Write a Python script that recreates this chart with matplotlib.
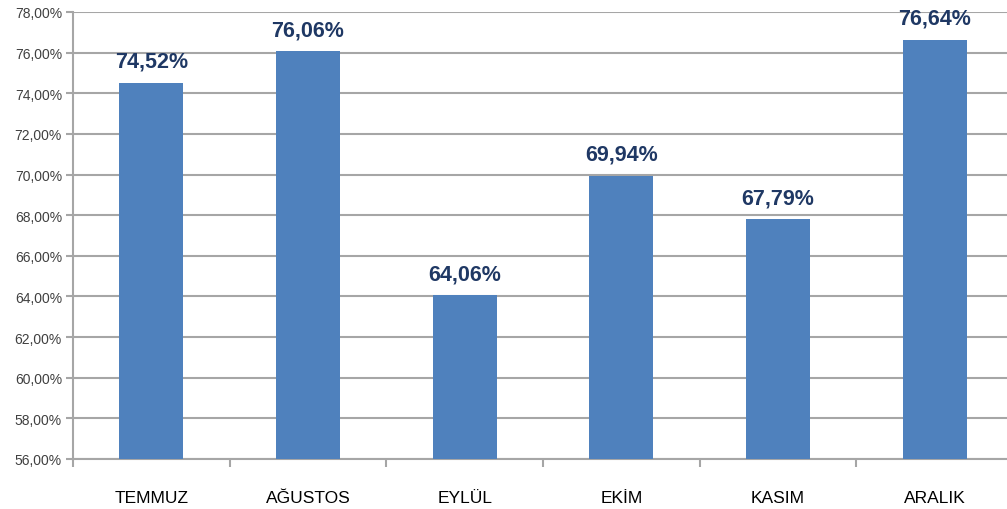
import numpy as np
from matplotlib import pyplot as plt
from matplotlib.ticker import FuncFormatter, FixedLocator

# Monthly ratios, July - December
months = ['TEMMUZ', 'AĞUSTOS', 'EYLÜL', 'EKİM', 'KASIM', 'ARALIK']
ratios = [74.52, 76.06, 64.06, 69.94, 67.79, 76.64]
value_labels = ['74,52%', '76,06%', '64,06%', '69,94%', '67,79%', '76,64%']
y_ticks = [56, 58, 60, 62, 64, 66, 68, 70, 72, 74, 76, 78]

bar_color = '#4F81BD'
label_color = '#1F3864'
grid_color = '#A6A6A6'


def pct(v, pos):
    return '{:.2f}%'.format(v).replace('.', ',')


def main():
    fig = plt.figure(figsize=(10.07, 5.10), dpi=100)
    ax = fig.add_axes([73 / 1007, 50 / 510, 940 / 1007, 447 / 510])

    x = np.arange(len(months))
    ax.bar(x, [r - 56 for r in ratios], bottom=56, width=0.41,
           color=bar_color, zorder=3)

    for xi, r, lab in zip(x, ratios, value_labels):
        ax.annotate(lab, (xi, r), xytext=(0, 8), textcoords='offset points',
                    ha='center', va='bottom', color=label_color,
                    fontsize=15.5, fontweight='bold',
                    family='Liberation Sans', zorder=4)

    ax.set_xlim(-0.5, len(months) - 0.5)
    ax.set_ylim(56, 78)
    ax.yaxis.set_major_locator(FixedLocator(y_ticks))
    ax.yaxis.set_major_formatter(FuncFormatter(pct))
    ax.grid(axis='y', color=grid_color, linewidth=1.5, zorder=0)

    ax.set_xticks(x)
    ax.set_xticklabels(months, family='Liberation Sans',
                       fontsize=12.5, color='#000000')
    ax.set_xticks(np.arange(len(months) + 1) - 0.5, minor=True)
    ax.tick_params(axis='x', which='major', length=0, pad=22)
    ax.tick_params(axis='x', which='minor', length=6, width=1.5,
                   color=grid_color)
    ax.tick_params(axis='y', length=5, width=1.5, color=grid_color,
                   labelsize=10, labelcolor='#404040', pad=3)
    for t in ax.get_yticklabels():
        t.set_family('Liberation Sans')

    for side in ['top', 'right']:
        ax.spines[side].set_visible(False)
    for side in ['left', 'bottom']:
        ax.spines[side].set_color(grid_color)
        ax.spines[side].set_linewidth(1.5)

    fig.savefig('out.png', dpi=100)


if __name__ == "__main__":
    main()
